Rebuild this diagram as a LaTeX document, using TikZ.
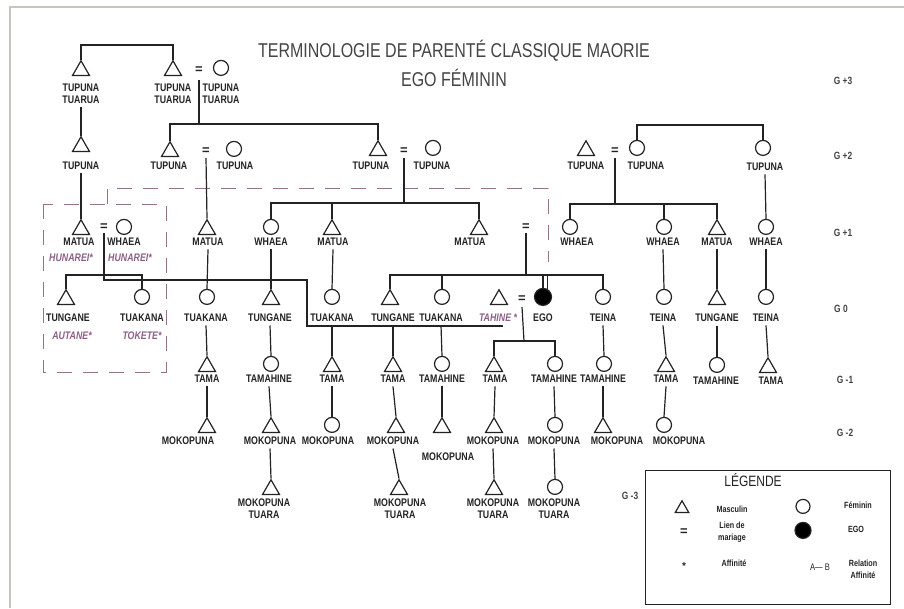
\documentclass[tikz,border=0pt]{standalone}
\usepackage{fontspec}
\setmainfont{Liberation Sans}
\newfontfamily\narrowfont[FakeStretch=0.8]{Liberation Sans}
\usepackage{tikz}
\usetikzlibrary{shapes.geometric}
\definecolor{ink}{RGB}{35,35,35}
\definecolor{affcol}{RGB}{140,95,135}
\definecolor{boxcol}{RGB}{150,115,140}
\definecolor{framecol}{RGB}{200,196,190}

\begin{document}
\begin{tikzpicture}[x=1pt, y=-1pt, line width=1.2pt, color=ink,
        male/.style={draw, regular polygon, regular polygon sides=3, minimum size=19.5pt, inner sep=0pt, anchor=south},
        female/.style={draw, circle, minimum size=15pt, inner sep=0pt, anchor=south},
        ego/.style={draw, circle, fill=black, minimum size=17pt, inner sep=0pt, anchor=south},
        term/.style={font=\narrowfont\bfseries\fontsize{11}{12}\selectfont, align=center, inner xsep=1pt, inner ysep=3pt},
        aff/.style={font=\narrowfont\bfseries\itshape\fontsize{11}{12}\selectfont, text=affcol, inner sep=1pt},
        eq/.style={font=\bfseries\fontsize{13}{14}\selectfont, inner sep=1.5pt},
        gen/.style={font=\narrowfont\bfseries\fontsize{10.5}{12}\selectfont, text=ink!85},
        legtxt/.style={font=\narrowfont\bfseries\fontsize{9}{12}\selectfont, align=center, inner sep=1pt},
        affbox/.style={draw=boxcol, dash pattern=on 15pt off 11pt, line width=1pt}]
        \useasboundingbox (0,0) rectangle (904,608);
        \draw[framecol, line width=1.5pt] (10,608) -- (10,7) -- (904,7);

        % Title
        \node (title) [font=\narrowfont\fontsize{20}{24}\selectfont, text=ink!85, anchor=base] at (454,57) {TERMINOLOGIE DE PARENTÉ CLASSIQUE MAORIE};
        \node (subtitle) [font=\narrowfont\fontsize{20}{24}\selectfont, text=ink!85, anchor=base] at (454,86) {EGO FÉMININ};

        % Generations
        \node (g3) [gen] at (843,81) {G +3};
        \node (g2) [gen] at (843,156) {G +2};
        \node (g1) [gen] at (843,233) {G +1};
        \node (g0) [gen] at (841,309) {G 0};
        \node (gm1) [gen] at (845,380) {G -1};
        \node (gm2) [gen] at (845,433) {G -2};
        \node (gm3) [gen] at (630,496) {G -3};

        % Affinity frames
        \draw[affbox] (43,204) rectangle (166,372);
        \coordinate (d0) at (107,204);
        \coordinate (d1) at (107,188);
        \coordinate (d2) at (548,188);
        \coordinate (d3) at (548,262);
        \draw[affbox] (d0) -- (d1) -- (d2) -- (d3);

        % Nodes G+3
        \node (TTa) [male] at (81,76) {};
        \node (TTb) [male] at (173,76) {};
        \node (e1) [eq] at (199,70) {=};
        \node (TTc) [female] at (221,76) {};
        \node (TTaL) [term] at (81,94) {TUPUNA\\TUARUA};
        \node (TTbL) [term] at (173,94) {TUPUNA\\TUARUA};
        \node (TTcL) [term] at (221,94) {TUPUNA\\TUARUA};

        % Nodes G+2
        \node (TPa) [male] at (81,152) {};
        \node (TPb) [male] at (170,157) {};
        \node (e2) [eq] at (206,151) {=};
        \node (TPc) [female] at (234,157) {};
        \node (TPd) [male] at (378,156) {};
        \node (e3) [eq] at (404,151) {=};
        \node (TPe) [female] at (433,156) {};
        \node (TPf) [male] at (586,156) {};
        \node (e4) [eq] at (615,151) {=};
        \node (TPg) [female] at (637,156) {};
        \node (TPh) [female] at (763,156) {};
        \node (TPaL) [term] at (81,166) {TUPUNA};
        \node (TPbL) [term] at (169,166) {TUPUNA};
        \node (TPcL) [term] at (235,166) {TUPUNA};
        \node (TPdL) [term] at (371,166) {TUPUNA};
        \node (TPeL) [term] at (432,166) {TUPUNA};
        \node (TPfL) [term] at (586,166) {TUPUNA};
        \node (TPgL) [term] at (646,166) {TUPUNA};
        \node (TPhL) [term] at (765,167) {TUPUNA};

        % Nodes G+1
        \node (MTa) [male] at (81,235) {};
        \node (e5) [eq] at (104,227) {=};
        \node (WHa) [female] at (124,235) {};
        \node (MTb) [male] at (207,235) {};
        \node (WHb) [female] at (271,235) {};
        \node (MTc) [male] at (332,235) {};
        \node (MTd) [male] at (479,235) {};
        \node (e6) [eq] at (526,227) {=};
        \node (WHc) [female] at (570,235) {};
        \node (WHd) [female] at (664,235) {};
        \node (MTe) [male] at (717,235) {};
        \node (WHe) [female] at (766,235) {};
        \node (MTaL) [term] at (79,242) {MATUA};
        \node (WHaL) [term] at (124,242) {WHAEA};
        \node (MTbL) [term] at (208,242) {MATUA};
        \node (WHbL) [term] at (271,242) {WHAEA};
        \node (MTcL) [term] at (333,242) {MATUA};
        \node (MTdL) [term] at (470,242) {MATUA};
        \node (WHcL) [term] at (577,242) {WHAEA};
        \node (WHdL) [term] at (663,242) {WHAEA};
        \node (MTeL) [term] at (717,242) {MATUA};
        \node (WHeL) [term] at (766,242) {WHAEA};
        \node (HUa) [aff] at (71,258) {HUNAREI*};
        \node (HUb) [aff] at (130,258) {HUNAREI*};

        % Nodes G 0
        \node (TGa) [male] at (66,305) {};
        \node (TKa) [female] at (142,305) {};
        \node (TKb) [female] at (207,305) {};
        \node (TGb) [male] at (271,305) {};
        \node (TKc) [female] at (332,305) {};
        \node (TGc) [male] at (390,305) {};
        \node (TKd) [female] at (442,305) {};
        \node (TH) [male] at (499,305) {};
        \node (e7) [eq] at (522,299) {=};
        \node (EGO) [ego] at (543,306) {};
        \node (TNa) [female] at (603,305) {};
        \node (TNb) [female] at (664,305) {};
        \node (TGd) [male] at (717,305) {};
        \node (TNc) [female] at (766,305) {};
        \node (TGaL) [term] at (68,318) {TUNGANE};
        \node (TKaL) [term] at (142,318) {TUAKANA};
        \node (TKbL) [term] at (206,318) {TUAKANA};
        \node (TGbL) [term] at (270,318) {TUNGANE};
        \node (TKcL) [term] at (332,318) {TUAKANA};
        \node (TGcL) [term] at (393,318) {TUNGANE};
        \node (TKdL) [term] at (441,318) {TUAKANA};
        \node (THL) [aff] at (498,318) {TAHINE *};
        \node (EGOL) [term] at (543,318) {EGO};
        \node (TNaL) [term] at (603,318) {TEINA};
        \node (TNbL) [term] at (663,318) {TEINA};
        \node (TGdL) [term] at (717,318) {TUNGANE};
        \node (TNcL) [term] at (766,318) {TEINA};
        \node (AU) [aff] at (72,336) {AUTANE*};
        \node (TO) [aff] at (142,336) {TOKETE*};

        % Nodes G-1
        \node (TMa) [male] at (207,372) {};
        \node (THa) [female] at (271,372) {};
        \node (TMb) [male] at (332,372) {};
        \node (TMc) [male] at (393,372) {};
        \node (THb) [female] at (442,372) {};
        \node (TMd) [male] at (494,372) {};
        \node (THc) [female] at (555,372) {};
        \node (THd) [female] at (604,372) {};
        \node (TMe) [male] at (666,372) {};
        \node (THe) [female] at (717,373) {};
        \node (TMf) [male] at (768,373) {};
        \node (TMaL) [term] at (207,379) {TAMA};
        \node (THaL) [term] at (269,379) {TAMAHINE};
        \node (TMbL) [term] at (332,379) {TAMA};
        \node (TMcL) [term] at (393,379) {TAMA};
        \node (THbL) [term] at (442,379) {TAMAHINE};
        \node (TMdL) [term] at (495,379) {TAMA};
        \node (THcL) [term] at (554,379) {TAMAHINE};
        \node (THdL) [term] at (603,379) {TAMAHINE};
        \node (TMeL) [term] at (666,379) {TAMA};
        \node (THeL) [term] at (716,381) {TAMAHINE};
        \node (TMfL) [term] at (771,381) {TAMA};

        % Nodes G-2
        \node (MKa) [male] at (207,433) {};
        \node (MKb) [male] at (271,433) {};
        \node (MKc) [female] at (332,433) {};
        \node (MKd) [male] at (396,433) {};
        \node (MKe) [male] at (442,433) {};
        \node (MKf) [male] at (494,433) {};
        \node (MKg) [female] at (555,433) {};
        \node (MKh) [male] at (603,433) {};
        \node (MKi) [female] at (664,433) {};
        \node (MKaL) [term] at (188,441) {MOKOPUNA};
        \node (MKbL) [term] at (270,441) {MOKOPUNA};
        \node (MKcL) [term] at (328,441) {MOKOPUNA};
        \node (MKdL) [term] at (393,441) {MOKOPUNA};
        \node (MKeL) [term] at (448,457) {MOKOPUNA};
        \node (MKfL) [term] at (493,441) {MOKOPUNA};
        \node (MKgL) [term] at (554,441) {MOKOPUNA};
        \node (MKhL) [term] at (617,441) {MOKOPUNA};
        \node (MKiL) [term] at (679,441) {MOKOPUNA};

        % Nodes G-3
        \node (MTTa) [male] at (271,495) {};
        \node (MTTb) [male] at (399,495) {};
        \node (MTTc) [male] at (494,495) {};
        \node (MTTd) [female] at (555,495) {};
        \node (MTTaL) [term] at (264,509) {MOKOPUNA\\TUARA};
        \node (MTTbL) [term] at (400,509) {MOKOPUNA\\TUARA};
        \node (MTTcL) [term] at (493,509) {MOKOPUNA\\TUARA};
        \node (MTTdL) [term] at (554,509) {MOKOPUNA\\TUARA};

        % Lines G+3
        \coordinate (s1) at (127,45);
        \draw (TTa.north) |- (s1) -| (TTb.north);
        \coordinate (m1) at (199,124);
        \draw ([yshift=-10pt]e1.center) -- (m1);
        \draw (TPb.north) |- (m1) -| (TPd.north);
        \draw (TTaL.south) -- (TPa.north);

        % Lines G+2
        \draw ([yshift=-7pt]e2.center) -- (MTb.north);
        \coordinate (m3) at (404,203);
        \draw ([yshift=-7pt]e3.center) -- (m3);
        \draw (WHb.north) |- (m3) -| (MTd.north);
        \draw (MTc.north) -- (MTc.north |- m3);
        \coordinate (m4) at (615,204);
        \draw ([yshift=-7pt]e4.center) -- (m4);
        \draw (WHc.north) |- (m4) -| (MTe.north);
        \draw (WHd.north) -- (WHd.north |- m4);
        \coordinate (s2) at (700,125);
        \draw (TPg.north) |- (s2) -| (TPh.north);
        \draw (TPaL.south) -- (MTa.north);
        \draw (TPhL.south) -- (WHe.north);

        % Lines G+1
        \coordinate (s3) at (104,275);
        \draw (TGa.north) |- (s3) -| (TKa.north);
        \coordinate (k1) at (307,280);
        \coordinate (k2) at (503,326);
        \draw ([yshift=-6pt]e5.center) |- (k1) |- (k2);
        \draw (MTbL.south) -- (TKb.north);
        \draw (WHbL.south) -- (TGb.north);
        \draw (MTcL.south) -- (TKc.north);
        \coordinate (m6) at (526,275);
        \draw ([yshift=-6pt]e6.center) -- (m6);
        \draw (TGc.north) |- (m6) -| (TNa.north);
        \draw (TKd.north) -- (TKd.north |- m6);
        \draw (EGO.north) -- (EGO.north |- m6);
        \draw (EGO.60) -- (EGO.60 |- m6);
        \draw (WHdL.south) -- (TNb.north);
        \draw (MTeL.south) -- (TGd.north);
        \draw (WHeL.south) -- (TNc.north);

        % Lines G 0
        \draw (TKbL.south) -- (TMa.north);
        \draw (TGbL.south) -- (THa.north);
        \draw (TKcL.south) -- (TMb.north);
        \draw (TGcL.south) -- (TMc.north);
        \draw (TKdL.south) -- (THb.north);
        \coordinate (m7) at (524,341);
        \draw ([yshift=-8pt]e7.center) -- (m7);
        \draw (TMd.north) |- (m7) -| (THc.north);
        \draw (TNaL.south) -- (THd.north);
        \draw (TNbL.south) -- (TMe.north);
        \draw (TGdL.south) -- (THe.north);
        \draw (TNcL.south) -- (TMf.north);

        % Lines G-1
        \draw (TMaL.south) -- (MKa.north);
        \draw (THaL.south) -- (MKb.north);
        \draw (TMbL.south) -- (MKc.north);
        \draw (TMcL.south) -- (MKd.north);
        \draw (THbL.south) -- (MKe.north);
        \draw (TMdL.south) -- (MKf.north);
        \draw (THcL.south) -- (MKg.north);
        \draw (THdL.south) -- (MKh.north);
        \draw (TMeL.south) -- (MKi.north);

        % Lines G-2
        \draw (MKbL.south) -- (MTTa.north);
        \draw (MKdL.south) -- (MTTb.north);
        \draw (MKfL.south) -- (MTTc.north);
        \draw (MKgL.south) -- (MTTd.north);

        % Legend
        \draw[line width=0.8pt] (645,470) rectangle (890,604);
        \node (legT) [font=\narrowfont\fontsize{15}{16}\selectfont, anchor=base] at (753,486) {LÉGENDE};
        \node (legM) [male, minimum size=15.5pt] at (682,513) {};
        \node (legMt) [legtxt] at (732,509) {Masculin};
        \node (legF) [female, minimum size=14pt] at (803,514) {};
        \node (legFt) [legtxt] at (858,505) {Féminin};
        \node (legE) [eq] at (684,532) {=};
        \node (legEt) [legtxt] at (732,532) {Lien de\\mariage};
        \node (legG) [ego, minimum size=16pt] at (803,539) {};
        \node (legGt) [legtxt] at (856,529) {EGO};
        \node (legA) [legtxt, font=\bfseries\fontsize{10}{12}\selectfont] at (684,566) {*};
        \node (legAt) [legtxt] at (734,563) {Affinité};
        \node (legR) [font=\narrowfont\fontsize{9.5}{12}\selectfont] at (820,567) {A— B};
        \node (legRt) [legtxt] at (863,569) {Relation\\Affinité};
    \end{tikzpicture}
\end{document}
